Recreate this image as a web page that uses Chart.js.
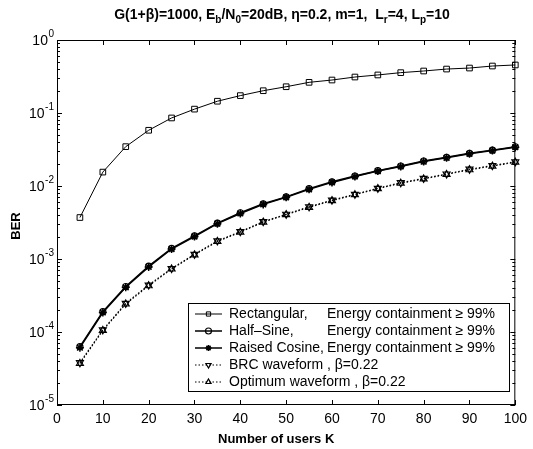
<!DOCTYPE html>
<html>
<head>
<meta charset="utf-8">
<script src="https://cdn.jsdelivr.net/npm/chart.js@4.4.0/dist/chart.umd.min.js"></script>
<style>
    html, body { margin: 0; padding: 0; background: #fff; }
    #wrap { width: 533px; height: 449px; position: relative; }
</style>
</head>
<body>
<div id="wrap"><canvas id="chartBer"></canvas></div>
<script>
// Number of users K
const users = [5, 10, 15, 20, 25, 30, 35, 40, 45, 50, 55, 60, 65, 70, 75, 80, 85, 90, 95, 100];

// BER values
const rectangular = [3.7e-3, 0.0155, 0.0346, 0.058, 0.0855, 0.113, 0.145, 0.173, 0.202, 0.229,
    0.263, 0.283, 0.311, 0.332, 0.357, 0.376, 0.400, 0.413, 0.440, 0.455];
const halfSine = [6.3e-5, 1.9e-4, 4.2e-4, 8.0e-4, 1.4e-3, 2.07e-3, 3.1e-3, 4.3e-3, 5.7e-3, 7.1e-3,
    9.2e-3, 0.0114, 0.0137, 0.0162, 0.0188, 0.0220, 0.0247, 0.0280, 0.0310, 0.0345];
const raisedCosine = [6.1e-5, 1.85e-4, 4.1e-4, 7.8e-4, 1.37e-3, 2.03e-3, 3.05e-3, 4.2e-3, 5.6e-3, 7.0e-3,
    9.0e-3, 0.0112, 0.0135, 0.0160, 0.0185, 0.0216, 0.0243, 0.0276, 0.0306, 0.0340];
const brcWaveform = [3.8e-5, 1.07e-4, 2.47e-4, 4.4e-4, 7.4e-4, 1.16e-3, 1.77e-3, 2.37e-3, 3.25e-3, 4.1e-3,
    5.2e-3, 6.4e-3, 7.7e-3, 9.3e-3, 0.0111, 0.0127, 0.0146, 0.0170, 0.0190, 0.0215];
const optimumWaveform = [3.7e-5, 1.05e-4, 2.42e-4, 4.3e-4, 7.3e-4, 1.14e-3, 1.74e-3, 2.33e-3, 3.2e-3, 4.05e-3,
    5.1e-3, 6.3e-3, 7.6e-3, 9.2e-3, 0.0109, 0.0125, 0.0144, 0.0167, 0.0187, 0.0212];

// Axis ticks
const xTicks = [0, 10, 20, 30, 40, 50, 60, 70, 80, 90, 100];
const yDecades = [-5, -4, -3, -2, -1, 0];

// Legend rows
const legendLabels = [
    ['Rectangular,', 'Energy containment \u2265 99%'],
    ['Half\u2013Sine,', 'Energy containment \u2265 99%'],
    ['Raised Cosine,', 'Energy containment \u2265 99%'],
    ['BRC waveform , \u03b2=0.22', ''],
    ['Optimum waveform , \u03b2=0.22', '']
];

// Title pieces: [text, isSubscript]
const titleParts = [
    ['G(1+\u03b2)=1000, E', false], ['b', true], ['/N', false], ['0', true],
    ['=20dB, \u03b7=0.2, m=1,  L', false], ['r', true], ['=4, L', false], ['p', true], ['=10', false]
];

const FONT = '"Liberation Sans", Arial, Helvetica, sans-serif';

const toPoints = arr => users.map((k, i) => ({ x: k, y: arr[i] }));

const datasets = [
    {
        label: 'Rectangular',
        data: toPoints(rectangular),
        borderColor: '#000', borderWidth: 1,
        pointStyle: 'rect', pointRadius: 4, pointBorderWidth: 1,
        pointBackgroundColor: 'rgba(0,0,0,0)', pointBorderColor: '#000'
    },
    {
        label: 'Half-Sine',
        data: toPoints(halfSine),
        borderColor: '#000', borderWidth: 1.5,
        pointStyle: 'circle', pointRadius: 3, pointBorderWidth: 1.2,
        pointBackgroundColor: 'rgba(0,0,0,0)', pointBorderColor: '#000'
    },
    {
        label: 'Raised Cosine',
        data: toPoints(raisedCosine),
        borderColor: '#000', borderWidth: 1.5,
        pointStyle: 'star', pointRadius: 4, pointBorderWidth: 1.5,
        pointBackgroundColor: '#000', pointBorderColor: '#000'
    },
    {
        label: 'BRC waveform',
        data: toPoints(brcWaveform),
        borderColor: '#000', borderWidth: 1.2, borderDash: [1.5, 2],
        pointStyle: 'triangle', rotation: 180, pointRadius: 4, pointBorderWidth: 1.2,
        pointBackgroundColor: 'rgba(0,0,0,0)', pointBorderColor: '#000'
    },
    {
        label: 'Optimum waveform',
        data: toPoints(optimumWaveform),
        borderColor: '#000', borderWidth: 1.2, borderDash: [1.5, 2],
        pointStyle: 'triangle', pointRadius: 4, pointBorderWidth: 1.2,
        pointBackgroundColor: 'rgba(0,0,0,0)', pointBorderColor: '#000'
    }
];
datasets.forEach(ds => { ds.fill = false; ds.tension = 0; ds.clip = false; });

/**
 * Box, inward ticks, labels, title and legend in MATLAB style
 */
const matlabDecor = {
    id: 'matlabDecor',
    afterDraw(chart) {
        const ctx = chart.ctx;
        const area = chart.chartArea;
        const xs = chart.scales.x;
        const ys = chart.scales.y;

        ctx.save();
        ctx.strokeStyle = '#000';
        ctx.fillStyle = '#000';
        ctx.lineWidth = 1;

        // Box
        ctx.strokeRect(area.left + 0.5, area.top + 0.5, area.right - area.left - 1, area.bottom - area.top - 1);

        // X ticks (bottom and top)
        ctx.beginPath();
        xTicks.forEach(v => {
            const px = Math.round(xs.getPixelForValue(v)) + 0.5;
            ctx.moveTo(px, area.bottom); ctx.lineTo(px, area.bottom - 5);
            ctx.moveTo(px, area.top); ctx.lineTo(px, area.top + 5);
        });
        // Y ticks: decades and minor
        yDecades.forEach(d => {
            const py = Math.round(ys.getPixelForValue(Math.pow(10, d))) + 0.5;
            ctx.moveTo(area.left, py); ctx.lineTo(area.left + 5, py);
            ctx.moveTo(area.right, py); ctx.lineTo(area.right - 5, py);
            if (d < 0) {
                for (let m = 2; m <= 9; m++) {
                    const pm = Math.round(ys.getPixelForValue(m * Math.pow(10, d))) + 0.5;
                    ctx.moveTo(area.left, pm); ctx.lineTo(area.left + 3, pm);
                    ctx.moveTo(area.right, pm); ctx.lineTo(area.right - 3, pm);
                }
            }
        });
        ctx.stroke();

        // Y tick labels 10^d
        ctx.textBaseline = 'middle';
        yDecades.forEach(d => {
            const py = ys.getPixelForValue(Math.pow(10, d));
            ctx.font = '10px ' + FONT;
            ctx.textAlign = 'left';
            const expTxt = d === 0 ? '0' : '-' + Math.abs(d);
            const expW = ctx.measureText(expTxt).width;
            const expX = 54 - expW;
            ctx.fillText(expTxt, expX, py - 6);
            ctx.font = '14px ' + FONT;
            ctx.textAlign = 'right';
            ctx.fillText('10', expX - 0.5, py + 1);
        });

        // Axis titles
        ctx.font = 'bold 13px ' + FONT;
        ctx.textAlign = 'center';
        ctx.fillText('Number of users K', (area.left + area.right) / 2 - 10, 439);
        ctx.save();
        ctx.translate(16, 226);
        ctx.rotate(-Math.PI / 2);
        ctx.fillText('BER', 0, 0);
        ctx.restore();

        // Title with subscripts
        const mainFont = 'bold 14px ' + FONT;
        const subFont = 'bold 10px ' + FONT;
        let total = 0;
        titleParts.forEach(([t, sub]) => {
            ctx.font = sub ? subFont : mainFont;
            total += ctx.measureText(t).width;
        });
        let tx = 282 - total / 2;
        ctx.textAlign = 'left';
        ctx.textBaseline = 'alphabetic';
        titleParts.forEach(([t, sub]) => {
            ctx.font = sub ? subFont : mainFont;
            ctx.fillText(t, tx, sub ? 23 : 19);
            tx += ctx.measureText(t).width;
        });

        // Legend
        const lx = 188, ly = 303, lw = 321, lh = 88;
        ctx.fillStyle = '#fff';
        ctx.fillRect(lx, ly, lw, lh);
        ctx.strokeRect(lx + 0.5, ly + 0.5, lw, lh);
        ctx.fillStyle = '#000';
        ctx.font = '14px ' + FONT;
        legendLabels.forEach((lbl, i) => {
            const ds = chart.data.datasets[i];
            const cy = ly + 11 + i * 17;
            ctx.save();
            ctx.lineWidth = ds.borderWidth;
            ctx.setLineDash(ds.borderDash || []);
            ctx.beginPath();
            ctx.moveTo(195, cy); ctx.lineTo(222, cy);
            ctx.stroke();
            ctx.setLineDash([]);
            ctx.lineWidth = ds.pointBorderWidth;
            ctx.fillStyle = ds.pointBackgroundColor;
            if (Chart.helpers && Chart.helpers.drawPoint) {
                Chart.helpers.drawPoint(ctx, {
                    pointStyle: ds.pointStyle, radius: 3, rotation: ds.rotation || 0,
                    borderWidth: ds.pointBorderWidth
                }, 208.5, cy);
            }
            ctx.restore();
            ctx.textAlign = 'left';
            ctx.textBaseline = 'middle';
            ctx.fillText(lbl[0], 229, cy);
            if (lbl[1]) {
                ctx.fillText(lbl[1], 327, cy);
            }
        });

        ctx.restore();
    }
};

new Chart(document.getElementById('chartBer').getContext('2d'), {
    type: 'line',
    data: { datasets },
    options: {
        responsive: true,
        maintainAspectRatio: false,
        animation: false,
        layout: { padding: { top: 40, right: 14, left: 0, bottom: 0 } },
        plugins: {
            legend: { display: false },
            tooltip: { enabled: false }
        },
        scales: {
            x: {
                type: 'linear',
                min: 0,
                max: 100,
                afterFit: scale => { scale.height = 44; },
                afterBuildTicks: scale => { scale.ticks = xTicks.map(v => ({ value: v })); },
                grid: { display: false, drawTicks: false },
                border: { display: false },
                ticks: {
                    color: '#000',
                    padding: 6,
                    maxRotation: 0,
                    font: { family: FONT, size: 14 }
                }
            },
            y: {
                type: 'logarithmic',
                min: 1e-5,
                max: 1,
                afterFit: scale => { scale.width = 57; },
                grid: { display: false, drawTicks: false },
                border: { display: false },
                ticks: { display: false }
            }
        }
    },
    plugins: [matlabDecor]
});
</script>
</body>
</html>
